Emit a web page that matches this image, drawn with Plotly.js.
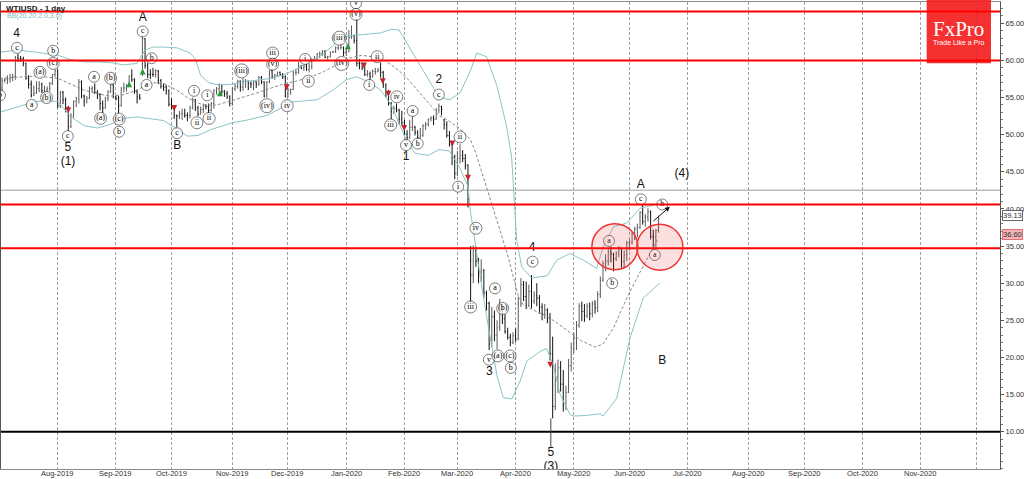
<!DOCTYPE html>
<html><head><meta charset="utf-8">
<script src="https://cdn.plot.ly/plotly-3.0.1.min.js"></script>
<style>html,body{margin:0;padding:0;background:#fff;overflow:hidden}#chart{width:1024px;height:479px}</style>
</head><body><div id="chart"></div>
<script>
// ---------- DATA ----------
const symbolTitle = 'WTIUSD - 1 day';
const indicatorTitle = 'BB(20,20,2.0,3.0)';
const firstBarDate = '2019-07-01';
const axisBaseDate = '2019-08-01';
const holidays = ['2020-01-01'];

const open = [
 59.4,59.1,56.3,57.3,57.4,57.5,57.7,57.8,60.4,60.2,60.2,59.6,57.6,56.8,55.3,55.6,56.2,56.8,55.9,56.0,56.2,56.9,58.1,
 58.6,53.9,55.7,54.7,53.6,51.1,52.5,54.5,54.9,57.1,55.2,54.5,54.9,56.2,56.3,55.7,55.4,54.2,53.6,54.9,55.8,56.7,
 55.1,54.9,53.9,56.3,56.3,56.5,57.9,57.4,55.8,55.1,59.5,62.9,59.3,58.1,58.1,58.1,58.6,57.3,56.5,56.4,55.9,
 54.1,53.6,52.6,52.5,52.8,52.8,52.6,52.6,53.6,54.7,53.6,52.8,53.4,53.9,53.8,53.3,54.2,56.0,56.2,56.7,55.8,55.5,55.1,
 54.2,56.2,56.5,57.2,56.4,57.2,57.2,56.9,56.8,57.1,56.8,57.7,57.1,55.2,57.1,58.6,57.8,58.0,58.4,58.1,57.8,
 55.2,56.0,56.1,58.4,58.4,59.2,59.0,59.2,58.8,59.2,60.1,60.2,60.9,60.9,61.2,60.4,60.5,61.1,61.2,61.7,61.7,61.7,
 61.1,61.2,63.1,63.3,62.7,59.6,59.6,59.0,58.1,58.2,57.8,58.5,58.5,58.7,58.4,56.7,55.6,54.2,53.1,53.5,53.3,52.1,
 51.6,50.1,49.6,51.0,51.0,50.3,49.6,49.9,51.2,51.4,52.1,52.2,52.1,53.3,53.8,52.0,51.4,49.9,48.7,47.1,
 44.8,46.8,47.2,46.8,45.9,33.0,31.1,34.4,33.0,31.5,31.7,28.7,27.3,21.8,25.5,23.0,24.0,26.4,25.2,23.5,22.7,22.0,
 22.9,22.5,27.2,29.8,28.2,27.0,28.9,27.6,28.3,28.0,26.8,25.9,26.4,25.3,20.5,13.4,17.4,18.6,16.4,13.5,15.3,18.9,
 21.3,22.6,24.3,26.9,26.2,25.6,26.9,25.9,27.2,26.7,28.5,30.4,32.6,33.0,34.2,33.9,33.3,34.0,34.6,32.9,33.8,
 35.4,35.5,36.8,37.3,37.5,39.5,38.3,38.9,39.6,36.3,36.2,37.1];
const high = [
 60.0,59.4,57.6,57.6,58.0,58.2,58.2,60.6,60.9,60.6,60.5,59.7,58.0,57.3,56.6,57.2,57.2,57.0,56.6,56.5,57.1,58.2,58.8,
 58.8,55.9,55.9,55.0,53.9,52.9,54.6,55.1,57.5,57.3,55.4,55.2,56.5,56.5,56.9,56.0,55.6,54.6,55.1,56.0,56.8,56.8,
 55.3,55.2,56.4,57.0,56.8,58.0,58.8,57.6,56.1,55.5,63.4,63.0,59.7,58.8,59.0,58.8,58.7,57.5,56.9,56.7,56.1,
 54.9,53.7,52.7,53.2,53.5,53.5,53.0,53.9,55.0,54.8,53.9,53.8,54.2,54.1,54.2,54.4,56.1,56.4,56.9,56.7,56.0,55.9,55.3,
 56.4,56.9,57.4,57.3,57.6,57.5,57.3,57.2,57.3,57.2,57.9,57.9,57.2,57.2,58.7,58.8,58.2,58.5,58.5,58.3,58.0,
 56.3,56.2,58.6,58.9,59.8,59.4,59.4,59.6,59.6,60.3,60.6,61.0,61.2,61.4,61.4,60.6,61.2,61.3,61.9,62.0,62.3,61.9,
 61.6,64.1,64.7,63.5,65.6,60.2,59.7,59.3,58.7,58.5,58.8,59.0,59.0,59.7,58.6,56.9,56.0,54.4,53.9,54.2,53.5,53.2,
 52.0,50.6,52.0,52.5,51.2,50.6,50.9,51.4,51.7,52.2,52.5,52.6,53.6,54.2,53.9,52.1,51.8,50.5,48.9,47.3,
 47.8,48.7,47.9,47.4,46.0,35.0,35.1,34.9,33.4,33.2,31.9,29.0,27.5,26.8,26.3,25.0,27.9,27.0,25.8,24.0,23.2,23.4,
 23.9,28.2,30.7,30.3,30.2,29.8,31.1,28.9,30.0,28.4,27.3,27.2,26.6,26.0,22.8,19.2,19.7,19.5,18.3,16.2,19.8,22.0,
 23.3,24.9,27.3,27.5,27.2,27.3,27.4,27.6,27.7,28.9,30.9,33.0,33.9,34.6,34.9,34.1,34.3,35.0,34.8,34.4,35.7,
 35.9,36.9,37.6,38.0,39.7,40.6,39.3,40.1,39.8,37.2,37.3,39.1];
const low = [
 58.4,56.0,55.8,57.0,56.8,57.0,57.2,57.4,59.8,59.8,59.2,57.4,56.2,55.0,55.2,55.5,55.7,55.6,55.4,55.5,55.8,56.7,57.8,
 53.6,53.6,54.1,53.0,50.5,50.9,52.3,53.7,54.2,54.9,53.8,54.2,54.8,55.7,55.5,54.8,53.3,52.9,53.5,54.5,55.6,54.9,
 54.6,52.9,53.8,55.7,55.8,56.4,57.1,55.5,54.2,54.7,57.9,58.9,57.6,57.5,57.8,57.7,56.8,56.2,55.9,55.4,53.8,
 53.4,52.1,51.0,52.1,52.0,52.3,51.8,52.2,53.4,53.2,52.5,52.7,52.9,53.4,52.9,53.1,53.5,55.4,55.8,55.4,55.1,54.8,53.8,
 53.9,55.9,56.2,55.8,55.9,56.3,56.0,56.3,56.0,56.3,56.6,56.8,55.0,55.0,56.9,57.5,57.4,57.8,57.9,57.5,55.0,
 55.0,55.4,56.0,58.0,58.2,58.8,58.6,58.6,58.4,58.8,59.9,60.1,60.3,60.6,60.3,60.1,60.4,61.0,61.0,61.4,61.5,60.6,
 60.6,61.1,62.9,62.3,59.2,58.8,58.7,57.9,57.8,57.3,57.7,58.1,58.4,57.7,56.3,55.0,53.9,52.1,52.8,53.0,51.4,51.3,
 49.9,49.3,49.4,50.5,49.9,49.3,49.5,49.7,50.6,51.1,51.8,51.3,52.0,52.9,52.6,50.7,49.6,48.4,45.9,44.0,
 44.4,46.1,46.3,45.3,40.2,27.4,30.0,32.2,30.0,30.2,28.0,26.3,21.0,21.4,22.2,21.1,23.6,24.5,23.2,22.4,21.5,21.8,
 22.1,22.3,26.8,27.6,26.5,26.8,26.6,27.2,26.9,25.9,25.0,25.2,24.6,19.6,11.8,12.9,15.2,15.4,12.7,12.9,15.2,18.1,
 20.6,21.0,24.0,24.9,24.8,25.3,25.0,25.4,25.9,26.1,28.0,30.2,31.6,32.4,32.8,31.6,33.0,33.5,32.1,32.0,33.0,
 34.4,35.2,35.8,36.2,37.3,37.9,37.6,38.3,35.9,34.6,34.7,36.8];
const close = [
 59.1,56.3,57.3,57.4,57.5,57.7,57.8,60.4,60.2,60.2,59.6,57.6,56.8,55.3,55.6,56.2,56.8,55.9,56.0,56.2,56.9,58.1,58.6,
 53.9,55.7,54.7,53.6,51.1,52.5,54.5,54.9,57.1,55.2,54.5,54.9,56.2,56.3,55.7,55.4,54.2,53.6,54.9,55.8,56.7,55.1,
 54.9,53.9,56.3,56.3,56.5,57.9,57.4,55.8,55.1,54.9,62.9,59.3,58.1,58.1,58.1,58.6,57.3,56.5,56.4,55.9,54.1,
 53.6,52.6,52.5,52.8,52.8,52.6,52.6,53.6,54.7,53.6,52.8,53.4,53.9,53.8,53.3,54.2,56.0,56.2,56.7,55.8,55.5,55.1,54.2,
 56.2,56.5,57.2,56.4,57.2,57.2,56.9,56.8,57.1,56.8,57.7,57.1,55.2,57.1,58.6,57.8,58.0,58.4,58.1,57.8,55.2,
 56.0,56.1,58.4,58.4,59.2,59.0,59.2,58.8,59.2,60.1,60.2,60.9,60.9,61.2,60.4,60.5,61.1,61.2,61.7,61.7,61.7,61.1,
 61.2,63.1,63.3,62.7,59.6,59.6,59.0,58.1,58.2,57.8,58.5,58.5,58.7,58.4,56.7,55.6,54.2,53.1,53.5,53.3,52.1,51.6,
 50.1,49.6,51.0,51.0,50.3,49.6,49.9,51.2,51.4,52.1,52.2,52.1,53.3,53.8,53.4,51.4,49.9,48.7,47.1,44.8,
 46.8,47.2,46.8,45.9,41.3,31.1,34.4,33.0,31.5,31.7,28.7,27.3,21.8,25.5,23.0,24.0,26.4,25.2,23.5,22.7,22.0,22.9,
 22.5,27.2,29.8,28.2,27.0,28.9,27.6,28.3,28.0,26.8,25.9,26.4,25.3,20.5,13.4,17.4,18.6,16.4,13.5,15.3,18.9,21.3,
 22.6,24.3,26.9,26.2,25.6,26.9,25.9,27.2,26.7,28.5,30.4,32.6,33.0,34.2,33.9,33.3,34.0,34.6,32.9,33.8,35.4,
 35.5,36.8,37.3,37.5,39.5,38.3,38.9,39.6,36.3,36.2,37.1,38.6];

// Bollinger bands (bar index, price)
const upIdx   = [-22,-15,-8,0,5,10,15,20,25,30,33,36,40,45,50,52,54,57,61,66,72,79,85,90,95,100,104,107,110,115,122,126,129,132,137,141,144,148,152,156,158.3,162,166,169.6,171.5,173.4,175.3,179,185,188.5,193.5,198.6,203.6,206.1,210,215,220,225,227];
const upVal   = [61.1,61.4,61.1,60.7,60.1,59.8,59.8,59.7,59.4,59.6,61.4,61.8,61.8,61.7,61.0,60.2,58.0,57.0,56.7,56.8,57.2,57.5,58.0,58.8,59.8,60.8,62.0,63.0,63.3,63.5,63.7,64.2,64.1,62.3,59.2,56.9,55.1,54.7,55.6,58.7,61.0,60.5,56.5,51.1,47.0,35.8,32.2,30.7,31.0,33.1,34.0,33.1,32.0,34.9,37.6,38.1,40.1,40.5,40.8];
const midIdx  = [-22,-15,-8,0,5,10,15,20,25,30,33,36,40,45,49,52,55,60,65,70,75,80,85,90,95,100,105,110,115,122,126,129,132,137,141,144,148,152,156,158,162,166,170,172,174,176,180,185,188,193,198,203,206,210,215,220,225,227];
const midVal  = [57.6,57.8,57.9,57.6,56.8,56.0,55.5,55.2,55.4,56.0,56.6,57.0,56.9,56.0,55.0,54.4,54.0,54.0,54.5,55.0,55.6,56.2,56.8,57.2,57.7,58.4,59.3,60.3,60.7,60.3,59.4,58.6,57.6,55.6,53.9,52.6,51.8,50.8,49.3,47.5,43.0,38.5,33.8,31.0,28.3,27.0,26.3,25.5,24.8,23.5,22.2,21.4,21.8,24.0,28.0,31.5,34.8,36.1];
const lowIdx  = [-22,-15,-8,0,5,10,15,20,25,30,35,40,45,49,53,58,66,72,79,84,88,98,104,109,113,118,122,126,129,132,135,140,144,148,152,155,156,158,160,163,166,168.3,171.5,174.7,177.2,182.2,184.7,187.2,189.8,193.6,195,200,205,206.1,211.2,216.2,221.2,227.5];
const lowVal  = [53.0,53.8,54.5,54.5,52.4,51.2,50.9,51.4,52.2,52.4,52.2,51.9,50.8,49.8,49.9,50.7,51.6,52.0,52.6,53.5,54.4,54.7,56.0,57.4,57.8,57.0,56.0,54.0,51.5,49.0,47.5,47.2,48.0,47.8,45.5,43.0,39.5,34.5,30.0,23.5,17.5,14.6,14.4,16.8,19.5,20.8,21.2,19.0,15.0,12.3,12.1,12.2,12.4,12.1,14.5,22.6,28.0,30.0];

// horizontal levels
const redLevels = [66.6, 60.0, 40.6, 34.7];
const supportLevel = 10.0;
const greyLevel = 42.5;

// wave labels: circled (text, bar index, price)
const circText = ['b','c','a','(a)','(b)','b','(c)','c','a','(a)','(b)','(c)','b','c','b','a','c','i','ii','i','ii','(iii)','(iv)','iii','(v)','iv','i','ii','(iii)','(iv)','v','(v)','i','ii','iv','iii','a','v','b','c','ii','i','iv','iii','v','(a)','a','(b)','(c)','b','c','a','b','c','b','a'];
const circX = [-21.8,-15.4,-9.8,-6.7,-4.2,-1.7,-1.7,3.8,13.7,16.2,20.0,23.2,23.2,32.1,35.5,33.6,45.1,51.5,52.6,56.5,57.2,69.5,79.0,81.2,81.2,86.7,93.5,94.7,106.4,107.3,112.7,112.7,117.7,120.7,128.1,125.8,134.1,131.6,136.0,144.0,152.0,151.3,158.0,156.0,162.9,166.3,165.2,168.1,170.9,171.2,179.4,208.3,209.5,220.3,228.4,225.6];
const circY = [55.3,61.7,54.0,58.4,55.0,61.3,59.6,49.8,57.8,52.2,57.6,52.1,50.4,63.9,60.3,56.7,50.2,55.9,51.6,55.3,52.2,58.6,53.9,61.0,59.5,53.9,60.2,57.2,63.0,59.6,67.7,66.2,56.7,60.5,55.1,51.3,53.2,48.6,48.8,55.4,49.7,43.0,37.4,26.8,19.7,20.2,29.3,26.6,20.2,18.6,32.9,35.7,30.0,41.3,40.6,33.8];
// plain wave labels
const waveText = ['4','5','(1)','A','B','1','2','3','4','5','(3)','A','(4)','B'];
const waveX = [-15.5,3.8,3.9,32.1,45.2,131.6,144.0,163.1,179.2,186.3,186.3,220.3,235.8,228.4];
const waveY = [63.6,48.2,46.3,65.7,48.5,47.0,57.3,18.1,34.7,7.1,5.3,43.2,44.7,19.5];

// signal arrows
const redArrowX = [4.0,44.0,86.5,115.7,122.8,124.9,130.9,149.1,155.0,186.1];
const redArrowY = [52.9,53.2,56.0,58.9,56.8,55.1,50.5,48.4,43.8,18.6];
const greenArrowX = [27.0,32.1,61.3,109.6];
const greenArrowY = [57.2,58.9,56.0,62.3];

// highlighted zones (center bar index, center price)
const zoneX = [210.5, 227.5];
const zoneY = [34.9, 34.85];
const projArrow = {from:[224.5,38.2], to:[231.3,40.3]};

// axis labels
const monthStarts = ['2019-08-01','2019-09-01','2019-10-01','2019-11-01','2019-12-01','2020-01-01','2020-02-01','2020-03-01','2020-04-01','2020-05-01','2020-06-01','2020-07-01','2020-08-01','2020-09-01','2020-10-01','2020-11-01','2020-12-01'];
const monthLabels = ['Aug-2019','Sep-2019','Oct-2019','Nov-2019','Dec-2019','Jan-2020','Feb-2020','Mar-2020','Apr-2020','May-2020','Jun-2020','Jul-2020','Aug-2020','Sep-2020','Oct-2020','Nov-2020',''];
const yTicks = [10,15,20,25,30,35,40,45,50,55,60,65];
const bidPrice = 39.13, markPrice = 36.60;

// ---------- helpers ----------
const DAY = 864e5;
function isTrading(t){const d=new Date(t);const w=d.getUTCDay();return w!==0&&w!==6&&!holidays.includes(d.toISOString().slice(0,10));}
const baseT = Date.parse(axisBaseDate+'T00:00:00Z');
function dayIndex(s){const t=Date.parse(s+'T00:00:00Z');let n=0;
  if(t>=baseT){for(let d=baseT;d<t;d+=DAY) if(isTrading(d)) n++;}
  else {for(let d=t;d<baseT;d+=DAY) if(isTrading(d)) n--;}
  return n;}
const x0 = dayIndex(firstBarDate);
const barX = open.map((_,i)=>x0+i);
const tickPos = monthStarts.map(dayIndex);

// ---------- traces ----------
const bbColor = '#8cc3c6';
const traces = [
 {type:'scatter',mode:'lines',x:upIdx,y:upVal,line:{color:bbColor,width:1},hoverinfo:'skip'},
 {type:'scatter',mode:'lines',x:lowIdx,y:lowVal,line:{color:bbColor,width:1},hoverinfo:'skip'},
 {type:'scatter',mode:'lines',x:midIdx,y:midVal,line:{color:'#8a8a8a',width:1,dash:'3px,2px'},hoverinfo:'skip'},
 {type:'ohlc',x:barX,open:open,high:high,low:low,close:close,tickwidth:0.3,
  increasing:{line:{color:'#5a5a5a',width:1}},decreasing:{line:{color:'#111',width:1}},hoverinfo:'skip'},
 {type:'scatter',mode:'markers',x:redArrowX,y:redArrowY,marker:{symbol:'arrow-down',size:6,color:'#c0282d'},hoverinfo:'skip'},
 {type:'scatter',mode:'markers',x:greenArrowX,y:greenArrowY,marker:{symbol:'arrow-up',size:6,color:'#2a9a35'},hoverinfo:'skip'},
 {type:'scatter',mode:'markers+text',x:circX,y:circY,text:circText,textposition:'middle center',
  marker:{symbol:'circle',size:circText.map(t=>t.length>3?14:(t.length>1?12:11)),color:'#ffffff',line:{color:'#1a1a1a',width:0.8}},
  textfont:{family:'Liberation Serif, serif',size:8,color:'#000'},hoverinfo:'skip',cliponaxis:true},
 {type:'scatter',mode:'text',x:waveX,y:waveY,text:waveText,textposition:'middle center',
  textfont:{family:'Liberation Sans, Arial, sans-serif',size:12,color:'#111'},hoverinfo:'skip',cliponaxis:true}
];

// ---------- shapes ----------
const pxX = 1/2.647, pxY = 1/7.425; // data units per pixel
const shapes = [];
shapes.push({type:'rect',xref:'paper',yref:'paper',x0:0.9266,x1:0.991,y0:0.869,y1:1.01,fillcolor:'rgba(243,30,30,0.92)',line:{width:0},layer:'above'});
redLevels.forEach(v=>shapes.push({type:'line',xref:'paper',x0:0,x1:1,yref:'y',y0:v,y1:v,line:{color:'#f00',width:2},layer:'above'}));
shapes.push({type:'line',xref:'paper',x0:0,x1:1,yref:'y',y0:supportLevel,y1:supportLevel,line:{color:'#000',width:2}});
shapes.push({type:'line',xref:'paper',x0:0,x1:1,yref:'y',y0:greyLevel,y1:greyLevel,line:{color:'#bdbdbd',width:1.5},layer:'below'});
zoneX.forEach((cx,k)=>{const rx=23*pxX, ry=23*pxY;
  shapes.push({type:'circle',xref:'x',yref:'y',x0:cx-rx,x1:cx+rx,y0:zoneY[k]-ry,y1:zoneY[k]+ry,
   fillcolor:'rgba(240,70,70,0.17)',line:{color:'#ee3333',width:1.5},layer:'above'});});
shapes.push({type:'line',xref:'x',yref:'y',x0:186.3,x1:186.3,y0:11.8,y1:7.9,line:{color:'#444',width:1}});

// ---------- annotations ----------
const annotations = [
 {xref:'paper',yref:'paper',x:0.003,y:1.0,xanchor:'left',yanchor:'top',text:'<b>'+symbolTitle+'</b>',showarrow:false,font:{family:'Liberation Sans, Arial',size:8,color:'#222'}},
 {xref:'paper',yref:'paper',x:0.004,y:0.982,xanchor:'left',yanchor:'top',text:indicatorTitle,showarrow:false,font:{family:'Liberation Sans, Arial',size:7,color:'#7db8bd'}},
 {xref:'paper',yref:'paper',x:0.9588,y:0.942,xanchor:'center',yanchor:'middle',text:'FxPro',showarrow:false,font:{family:'Liberation Serif, serif',size:21,color:'#fff'}},
 {xref:'paper',yref:'paper',x:0.9588,y:0.914,xanchor:'center',yanchor:'middle',text:'Trade Like a Pro',showarrow:false,font:{family:'Liberation Sans, Arial',size:7,color:'#fff'}},
 {xref:'x',yref:'y',axref:'x',ayref:'y',x:projArrow.to[0],y:projArrow.to[1],ax:projArrow.from[0],ay:projArrow.from[1],
  showarrow:true,arrowhead:2,arrowsize:1,arrowwidth:1,arrowcolor:'#111',text:''},
 {xref:'paper',yref:'y',x:1.002,y:bidPrice,xanchor:'left',yanchor:'middle',text:bidPrice.toFixed(2),showarrow:false,
  font:{family:'Liberation Sans, Arial',size:7.5,color:'#333'},bgcolor:'#fff',bordercolor:'#666',borderwidth:1,borderpad:0},
 {xref:'paper',yref:'y',x:1.002,y:markPrice,xanchor:'left',yanchor:'middle',text:markPrice.toFixed(2),showarrow:false,
  font:{family:'Liberation Sans, Arial',size:7.5,color:'#333'},bgcolor:'#f4b4b4',bordercolor:'#e07070',borderwidth:1,borderpad:0}
];
monthLabels.forEach((t,k)=>{ if(t) annotations.push({xref:'x',yref:'paper',x:tickPos[k],y:0,yanchor:'top',xanchor:'center',yshift:1,borderpad:0,
  text:t,showarrow:false,font:{family:'Liberation Sans, Arial',size:7.5,color:'#333'}}); });

const layout = {
 width:1024,height:479,margin:{l:1,r:24,t:2,b:10},paper_bgcolor:'#fff',plot_bgcolor:'#fff',showlegend:false,
 xaxis:{type:'linear',range:[-21.42,356.0],tickvals:tickPos,ticktext:monthLabels.map(()=>''),showgrid:true,gridcolor:'#a0a0a0',griddash:'3px,2px',gridwidth:1,
   zeroline:false,ticks:'',showline:true,mirror:true,linecolor:'#8a8a8a',linewidth:1,rangeslider:{visible:false},fixedrange:true},
 yaxis:{side:'right',range:[4.975,67.87],tickvals:yTicks,ticktext:yTicks.map(v=>v.toFixed(2)),showgrid:false,zeroline:false,
   ticks:'outside',ticklen:3,tickcolor:'#555',showline:true,mirror:true,linecolor:'#555',linewidth:1,
   minor:{dtick:1,tick0:0,ticks:'outside',ticklen:2,tickcolor:'#777',showgrid:false},
   tickfont:{family:'Liberation Sans, Arial',size:7.5,color:'#333'},fixedrange:true},
 shapes:shapes,annotations:annotations,hovermode:false
};
Plotly.newPlot('chart',traces,layout,{staticPlot:true,displayModeBar:false});
</script></body></html>
